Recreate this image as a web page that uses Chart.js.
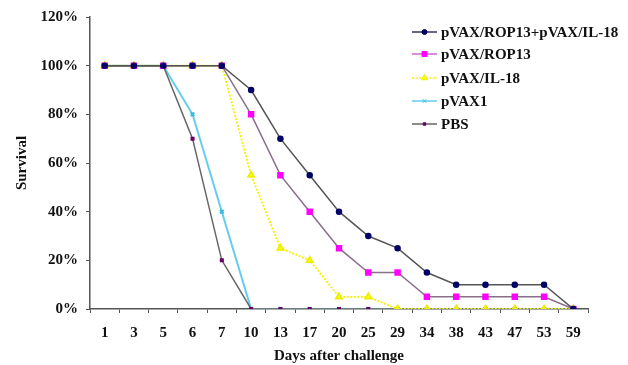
<!DOCTYPE html>
<html>
<head>
<meta charset="utf-8">
<script src="https://cdn.jsdelivr.net/npm/chart.js@4/dist/chart.umd.min.js"></script>
<style>
html,body{margin:0;padding:0;background:#fff;}
#wrap{width:628px;height:365px;position:relative;}
</style>
</head>
<body>
<div id="wrap"><canvas id="c" width="628" height="365"></canvas></div>
<script>
const days = ['1','3','5','6','7','10','13','17','20','25','29','34','38','43','47','53','59'];
const comboROP13IL18 = [100,100,100,100,100,90,70,55,40,30,25,15,10,10,10,10,0];
const rop13 = [100,100,100,100,100,80,55,40,25,15,15,5,5,5,5,5,0];
const il18 = [100,100,100,100,100,55,25,20,5,5,0,0,0,0,0,0,0];
const pvax1 = [100,100,100,80,40,0,0,0,0,0,0,0,0,0,0,0,0];
const pbs = [100,100,100,70,20,0,0,0,0,0,0,0,0,0,0,0,0];
const seriesNames = ['pVAX/ROP13+pVAX/IL-18','pVAX/ROP13','pVAX/IL-18','pVAX1','PBS'];
const yTicks = [0,20,40,60,80,100,120];

const FONT = '"Liberation Serif", "Times New Roman", serif';

const legendPlugin = {
  id: 'customLegend',
  afterDraw(chart) {
    const ctx = chart.ctx;
    const ys = [32, 54, 78, 101, 124];
    ctx.save();
    chart.data.datasets.forEach((ds, i) => {
      const y = ys[i];
      ctx.strokeStyle = ds.legendLine || ds.borderColor;
      ctx.lineWidth = 1.5;
      ctx.setLineDash(ds.borderDash || []);
      ctx.beginPath();
      ctx.moveTo(412, y); ctx.lineTo(437, y); ctx.stroke();
      ctx.setLineDash([]);
      ctx.fillStyle = ds.pointBackgroundColor;
      ctx.strokeStyle = ds.pointBorderColor;
      ctx.lineWidth = 1;
      Chart.helpers.drawPoint(ctx, {pointStyle: ds.pointStyle, radius: ds.pointRadius, borderWidth: 1}, 424.5, y);
      ctx.fillStyle = '#111';
      ctx.font = 'bold 15px ' + FONT;
      ctx.textBaseline = 'middle';
      ctx.textAlign = 'left';
      ctx.fillText(ds.label, 441, y + 1);
    });
    ctx.restore();
  }
};

new Chart(document.getElementById('c'), {
  type: 'line',
  data: {
    labels: days,
    datasets: [
      {label: seriesNames[0], data: comboROP13IL18, order: 0, borderColor: '#555555', legendLine: '#333355', borderWidth: 1.5,
       pointStyle: 'circle', pointRadius: 2.5, pointBackgroundColor: '#000066', pointBorderColor: '#000066'},
      {label: seriesNames[1], data: rop13, order: 1, borderColor: '#8a6f8a', legendLine: '#cc66cc', borderWidth: 1.5,
       pointStyle: 'rect', pointRadius: 3.5, pointBackgroundColor: '#ff00ff', pointBorderColor: '#ff00ff'},
      {label: seriesNames[2], data: il18, order: 2, borderColor: '#f5f000', borderWidth: 1.8, borderDash: [2,1.5],
       pointStyle: 'triangle', pointRadius: 3.5, pointBackgroundColor: '#ffff00', pointBorderColor: '#eeee00'},
      {label: seriesNames[3], data: pvax1, order: 4, borderColor: '#66ccee', borderWidth: 2,
       pointStyle: 'crossRot', pointRadius: 2.5, pointBackgroundColor: '#33bbdd', pointBorderColor: '#33bbdd'},
      {label: seriesNames[4], data: pbs, order: 3, borderColor: '#666666', borderWidth: 1.5,
       pointStyle: 'rect', pointRadius: 1.8, pointBackgroundColor: '#660066', pointBorderColor: '#660066'}
    ]
  },
  options: {
    responsive: false,
    animation: false,
    layout: {padding: {left: 0, right: 40, top: 13, bottom: 0}},
    plugins: {legend: {display: false}, tooltip: {enabled: false}},
    elements: {line: {tension: 0}},
    scales: {
      x: {
        type: 'category',
        offset: true,
        afterFit(scale) { scale.height = 56; },
        border: {display: true, color: '#555', width: 1.5},
        grid: {display: true, drawOnChartArea: false, offset: true, color: '#555', tickLength: 4},
        ticks: {color: '#111', font: {family: FONT, size: 15, weight: 'bold'}, padding: 11, maxRotation: 0, autoSkip: false},
        title: {display: true, text: 'Days after challenge', color: '#111', font: {family: FONT, size: 15, weight: 'bold'}, padding: {top: 2, bottom: 0}}
      },
      y: {
        min: 0, max: 120,
        afterBuildTicks(scale) { scale.ticks = yTicks.map(v => ({value: v})); },
        afterFit(scale) { scale.width = 90; },
        border: {display: true, color: '#555', width: 1.5},
        grid: {display: true, drawOnChartArea: false, color: '#555', tickLength: 4},
        ticks: {color: '#111', font: {family: FONT, size: 15, weight: 'bold'}, padding: 8, callback: v => v + '%'},
        title: {display: true, text: 'Survival', color: '#111', font: {family: FONT, size: 15, weight: 'bold'}, padding: {top: 13, bottom: 0}}
      }
    }
  },
  plugins: [legendPlugin]
});
</script>
</body>
</html>
